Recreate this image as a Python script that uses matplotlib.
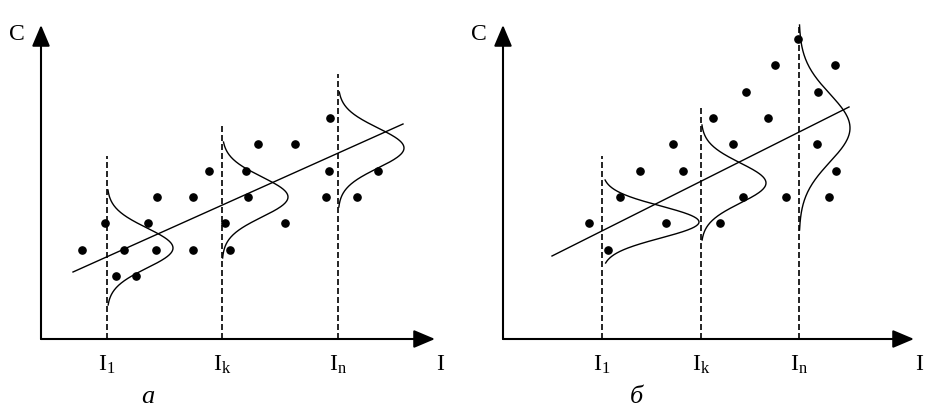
import numpy as np
import matplotlib.pyplot as plt

plt.rcParams['font.family'] = ['Liberation Serif', 'DejaVu Serif']
plt.rcParams['mathtext.fontset'] = 'custom'
plt.rcParams['mathtext.rm'] = 'Liberation Serif'
plt.rcParams['mathtext.it'] = 'Liberation Serif:italic'

# ---- data (pixel-like units, origin at the axes crossing) ----
tick_labels = [r'$\mathrm{I}_{\mathrm{1}}$', r'$\mathrm{I}_{\mathrm{k}}$', r'$\mathrm{I}_{\mathrm{n}}$']

# panel "а" : equal spread of C at every I
a_x = [41, 64, 75, 83, 95, 107, 116, 115, 152, 152, 168, 184, 189,
       205, 207, 217, 244, 254, 289, 288, 285, 316, 337]
a_y = [89, 116, 63, 89, 63, 116, 142, 89, 142, 89, 168, 116, 89,
       168, 142, 195, 116, 195, 221, 168, 142, 142, 168]
a_levels = [66, 181, 297]          # I1, Ik, In
a_level_top = [183, 216, 265]      # top of dashed lines
a_mu = [91, 142, 191]
a_amp = [66, 66, 66]
a_sigma = [20, 20, 20]
a_lo = [34, 81, 132]
a_hi = [149, 197, 247]
a_line = ([32, 362], [67, 215])

# panel "б" : spread of C grows with I
b_x = [86, 105, 117, 137, 163, 170, 180, 210, 217, 230, 240, 243, 265,
       272, 283, 295, 315, 314, 332, 333, 326]
b_y = [116, 89, 142, 168, 116, 195, 168, 221, 116, 195, 142, 247, 221,
       274, 142, 300, 247, 195, 274, 168, 142]
b_levels = [99, 198, 296]
b_level_top = [183, 232, 315]
b_mu = [117, 156, 211]
b_amp = [97, 65, 51]
b_sigma = [16, 20, 34]
b_lo = [76, 99, 109]
b_hi = [159, 214, 314]
b_line = ([49, 346], [83, 232])


def draw_panel(ax, xs, ys, levels, tops, mu, amp, sigma, lo, hi, line,
               x_end, label, label_x):
    ax.set_xlim(ax.get_xlim())
    # axes with arrows
    arrow = dict(arrowstyle='-|>,head_length=1.3,head_width=0.55',
                 color='black', lw=1.5, shrinkA=0, shrinkB=0, mutation_scale=10)
    ax.annotate('', xy=(0, 314), xytext=(0, 0), arrowprops=arrow)
    ax.annotate('', xy=(x_end, 0), xytext=(0, 0), arrowprops=arrow)

    # dashed verticals
    for lx, top in zip(levels, tops):
        ax.plot([lx, lx], [0, top], color='black', lw=1.2, dashes=(3.6, 1.8))

    # normal curves drawn sideways
    for lx, m, A, s, l, h in zip(levels, mu, amp, sigma, lo, hi):
        yy = np.linspace(l, h, 200)
        ax.plot(lx + A * np.exp(-(yy - m) ** 2 / (2 * s ** 2)), yy,
                color='black', lw=1.0)

    # regression line and points
    ax.plot(line[0], line[1], color='black', lw=1.0)
    ax.plot(xs, ys, 'o', color='black', markersize=5.2)

    # labels
    for lx, t in zip(levels, tick_labels):
        ax.text(lx, -26, t, ha='center', va='center', fontsize=17)
    ax.text(x_end + 5, -26, 'I', ha='center', va='center', fontsize=17)
    ax.text(-24, 305, 'C', ha='center', va='center', fontsize=17)
    ax.text(label_x, -58, label, ha='center', va='center', fontsize=19,
            style='italic')


fig = plt.figure(figsize=(9.33, 4.13), dpi=100)

ax1 = fig.add_axes([0, 0, 466 / 933, 1])
ax1.set_xlim(-41, 425)
ax1.set_ylim(-74, 339)
ax1.axis('off')
draw_panel(ax1, a_x, a_y, a_levels, a_level_top, a_mu, a_amp, a_sigma,
           a_lo, a_hi, a_line, 394, 'а', 107)

ax2 = fig.add_axes([466 / 933, 0, 467 / 933, 1])
ax2.set_xlim(-37, 430)
ax2.set_ylim(-74, 339)
ax2.axis('off')
draw_panel(ax2, b_x, b_y, b_levels, b_level_top, b_mu, b_amp, b_sigma,
           b_lo, b_hi, b_line, 411, 'б', 133)

fig.savefig('out.png', dpi=100)
